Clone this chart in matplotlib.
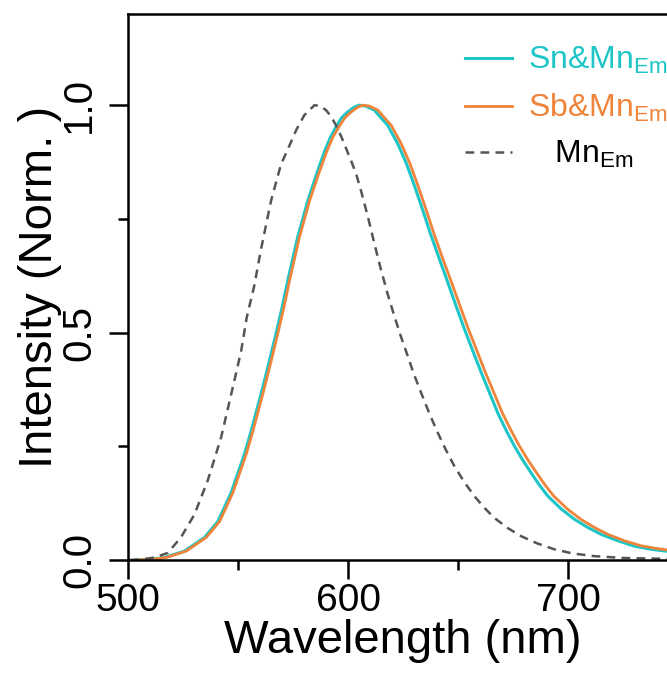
import numpy as np
import matplotlib
matplotlib.use("Agg")
import matplotlib.pyplot as plt
from matplotlib.ticker import MultipleLocator, FormatStrFormatter

plt.rcParams['font.family'] = ['Liberation Sans', 'DejaVu Sans']
plt.rcParams['mathtext.fontset'] = 'custom'
plt.rcParams['mathtext.rm'] = 'Liberation Sans'
plt.rcParams['mathtext.it'] = 'Liberation Sans'

# Sn&Mn emission
sn_wl = [501, 510, 516.5, 525.6, 534.7, 540.8, 546.8, 552.9, 556.0, 560.8, 564.0,
         567.0, 570.0, 572.6, 577.1, 581.7, 585.5, 589.2, 592.0, 594.5, 597.0, 599.8,
         602.5, 605.0, 608.0, 612.0, 615.0, 618.0, 622.6, 626.5, 630.1, 633.9, 637.7,
         641.5, 645.3, 649.0, 652.9, 656.7, 660.5, 664.3, 668.0, 671.8, 675.6, 679.4,
         683.2, 687.0, 690.8, 696.8, 702.9, 709.0, 715.0, 722.5, 730.1, 738.0, 746.0]
sn_int = [0.0, 0.002, 0.006, 0.02, 0.05, 0.085, 0.148, 0.233, 0.285, 0.372, 0.433,
          0.493, 0.555, 0.615, 0.71, 0.79, 0.846, 0.897, 0.93, 0.952, 0.972, 0.985,
          0.995, 1.0, 0.998, 0.989, 0.972, 0.956, 0.915, 0.872, 0.824, 0.77, 0.714,
          0.662, 0.611, 0.56, 0.508, 0.46, 0.413, 0.368, 0.324, 0.286, 0.251, 0.22,
          0.192, 0.165, 0.141, 0.113, 0.09, 0.072, 0.057, 0.043, 0.031, 0.024, 0.019]

# Sb&Mn emission
sb_wl = [501, 511, 517.3, 526.4, 535.5, 541.6, 547.6, 553.7, 556.8, 561.6, 564.8,
         567.8, 570.8, 573.4, 577.9, 582.5, 586.4, 590.2, 593.1, 595.8, 598.5, 601.4,
         604.2, 606.7, 609.7, 613.6, 616.6, 619.6, 624.2, 628.1, 631.7, 635.5, 639.3,
         643.1, 647.0, 650.8, 654.7, 658.6, 662.4, 666.3, 670.1, 674.0, 677.9, 681.8,
         685.7, 689.6, 693.5, 699.6, 705.8, 712.0, 718.0, 725.5, 733.0, 740.0, 746.0]
sb_int = [0.0, 0.002, 0.006, 0.02, 0.05, 0.085, 0.148, 0.233, 0.285, 0.372, 0.433,
          0.493, 0.555, 0.615, 0.71, 0.79, 0.846, 0.897, 0.93, 0.952, 0.972, 0.985,
          0.995, 1.0, 0.998, 0.989, 0.972, 0.956, 0.915, 0.872, 0.824, 0.77, 0.714,
          0.662, 0.611, 0.56, 0.508, 0.46, 0.413, 0.368, 0.324, 0.286, 0.251, 0.22,
          0.192, 0.165, 0.141, 0.113, 0.09, 0.072, 0.057, 0.043, 0.032, 0.026, 0.022]

# Mn emission (dashed)
mn_wl = [501, 506, 512, 518, 524, 530.1, 536.2, 542.3, 548.0, 551.4, 554.0, 557.4,
         560.5, 565.0, 569.5, 572.6, 576.4, 580.1, 584.7, 587.5, 590.0, 592.3, 594.5,
         597.0, 599.1, 601.2, 603.6, 606.0, 609.0, 612.0, 615.0, 618.0, 621.0, 624.0,
         627.1, 630.0, 633.2, 637.0, 640.8, 644.5, 648.3, 652.8, 657.4, 662.0, 666.5,
         672.5, 678.6, 686.0, 693.8, 702.0, 712.0, 725.0, 746.0]
mn_int = [0.0, 0.002, 0.006, 0.016, 0.05, 0.1, 0.175, 0.27, 0.388, 0.46, 0.535, 0.604,
          0.685, 0.79, 0.87, 0.903, 0.945, 0.978, 1.0, 0.998, 0.989, 0.975, 0.956,
          0.93, 0.905, 0.88, 0.85, 0.81, 0.755, 0.695, 0.638, 0.585, 0.537, 0.492,
          0.449, 0.408, 0.368, 0.322, 0.28, 0.242, 0.207, 0.172, 0.141, 0.115, 0.093,
          0.071, 0.053, 0.037, 0.024, 0.015, 0.009, 0.005, 0.003]

labels = [r'Sn&Mn$_{\mathrm{Em}}$', r'Sb&Mn$_{\mathrm{Em}}$', r'   Mn$_{\mathrm{Em}}$']
cyan = '#1dc5c6'
orange = '#f0843a'
grey = '#555555'

fig = plt.figure(figsize=(6.67, 6.75), dpi=100)
ax = fig.add_axes([0.192, 0.170, 0.8246, 0.809])

ax.plot(sn_wl, sn_int, color=cyan, lw=2.2, label=labels[0])
ax.plot(sb_wl, sb_int, color=orange, lw=2.0, label=labels[1])
ax.plot(mn_wl, mn_int, color=grey, lw=1.8, ls=(0, (3.5, 2.5)), label=labels[2])

ax.set_xlim(500, 750)
ax.set_ylim(0, 1.2)
ax.xaxis.set_major_locator(MultipleLocator(100))
ax.xaxis.set_minor_locator(MultipleLocator(50))
ax.yaxis.set_major_locator(MultipleLocator(0.5))
ax.yaxis.set_minor_locator(MultipleLocator(0.25))
ax.yaxis.set_major_formatter(FormatStrFormatter('%.1f'))

for s in ax.spines.values():
    s.set_linewidth(1.8)
ax.tick_params(which='major', direction='out', length=13.5, width=1.8, labelsize=28)
ax.tick_params(which='minor', direction='out', length=7, width=1.8)
ax.tick_params(axis='x', which='major', pad=3)
ax.tick_params(axis='y', which='major', pad=8, labelsize=29, labelrotation=90)
for t in ax.get_yticklabels():
    t.set_va('center')

ax.set_xlabel('Wavelength (nm)', fontsize=34, labelpad=0)
ax.set_ylabel('Intensity (Norm. )', fontsize=34, labelpad=-1)

leg = ax.legend(loc='upper left', bbox_to_anchor=(0.613, 0.943), frameon=False,
                borderaxespad=0, borderpad=0,
                fontsize=23, handlelength=1.45, handletextpad=0.5, labelspacing=0.48)
for txt, c in zip(leg.get_texts(), [cyan, orange, 'black']):
    txt.set_color(c)

fig.savefig('out.png', dpi=100)
